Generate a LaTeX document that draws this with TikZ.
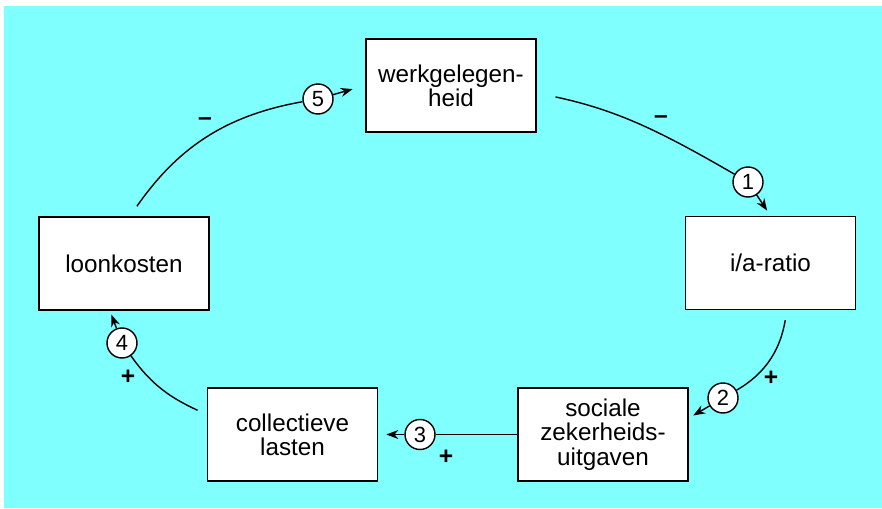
\documentclass[tikz,border=0pt]{standalone}
\usepackage{fontspec}
\setmainfont{Liberation Sans}
\usetikzlibrary{arrows.meta}
\usepackage{xcolor}
\definecolor{bgcyan}{RGB}{128,255,255}

\begin{document}
\begin{tikzpicture}[
    box/.style={draw=black, line width=1pt, fill=white, minimum width=3.4cm, minimum height=1.86cm, align=center, font=\fontsize{13.8}{13.8}\selectfont},
    num/.style={draw, circle, fill=white, line width=0.8pt, inner sep=0pt, minimum size=0.6cm, font=\fontsize{12.5}{12.5}\selectfont},
    sign/.style={font=\bfseries\fontsize{14}{14}\selectfont},
    link/.style={line width=0.8pt},
    tip/.style={-{Stealth[length=2.4mm,width=1.8mm]}}
]
            \useasboundingbox (0,0) rectangle (17.64,10.16);
            \fill[bgcyan] (0.08,0) rectangle (17.64,10.04);

            % Feedback loop boxes
            \node[box] (werk) at (9.02,8.45) {werkgelegen-\\heid};
            \node[box] (ratio) at (15.41,4.90) {i/a-ratio};
            \node[box] (soc) at (12.06,1.47) {sociale\\zekerheids-\\uitgaven};
            \node[box] (coll) at (5.85,1.47) {collectieve\\lasten};
            \node[box] (loon) at (2.48,4.89) {loonkosten};

            % Numbered steps
            \node[num] (c1) at (14.96,6.52) {1};
            \node[num] (c2) at (14.46,2.20) {2};
            \node[num] (c3) at (8.40,1.47) {3};
            \node[num] (c4) at (2.44,3.30) {4};
            \node[num] (c5) at (6.36,8.18) {5};

            % Signs
            \node[sign] (s1) at (13.22,7.76) {--};
            \node[sign] (s2) at (15.42,2.60) {+};
            \node[sign] (s3) at (8.92,1.02) {+};
            \node[sign] (s4) at (2.56,2.62) {+};
            \node[sign] (s5) at (4.10,7.72) {--};

            \draw[link, shorten <=0.38cm] ([yshift=-0.15cm]werk.east) to[out=-12, in=150] (c1);
            \draw[link, tip, shorten >=0.12cm] (c1) -- (ratio.north);
            \draw[link, shorten <=0.2cm] ([xshift=0.33cm]ratio.south) to[out=-100, in=30] (c2);
            \draw[link, tip, shorten >=0.1cm] (c2) -- ([yshift=0.33cm]soc.east);
            \draw[link] (soc) -- (c3);
            \draw[link, tip, shorten >=0.16cm] (c3) -- (coll);
            \draw[link, shorten <=0.2cm] ([yshift=0.4cm]coll.west) to[out=155, in=-55] (c4);
            \draw[link, tip, shorten >=0.08cm] (c4) -- ([xshift=-0.28cm]loon.south);
            \draw[link, shorten <=0.24cm] ([xshift=0.12cm]loon.north) to[out=55, in=190] (c5);
            \draw[link, tip, shorten >=0.26cm] (c5) -- (werk.west);
        \end{tikzpicture}
\end{document}
